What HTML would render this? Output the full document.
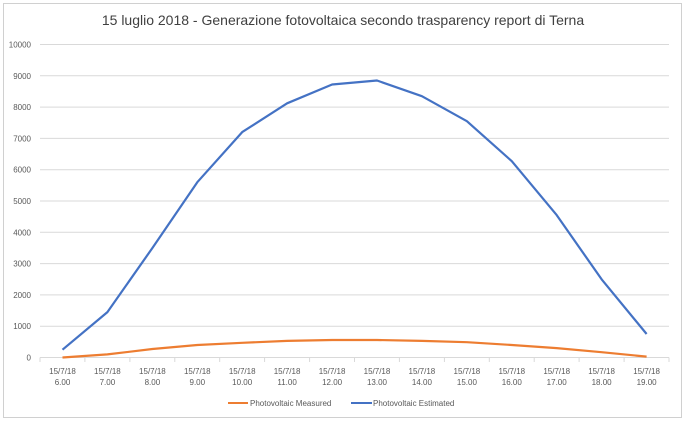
<!DOCTYPE html>
<html><head><meta charset="utf-8"><style>
body{margin:0;background:#fff;}
svg{display:block;font-family:"Liberation Sans",sans-serif;}
</style></head><body>
<svg width="686" height="422" viewBox="0 0 686 422">
<rect x="3.5" y="3.5" width="678" height="414" fill="#fff" stroke="#d0d0d0"/>
<text x="343" y="25" font-size="14" text-anchor="middle" fill="#404040">15 luglio 2018 - Generazione fotovoltaica secondo trasparency report di Terna</text>
<g stroke="#d9d9d9" stroke-width="1">
<line x1="40" x2="669" y1="44.5" y2="44.5"/><line x1="40" x2="669" y1="75.8" y2="75.8"/>
<line x1="40" x2="669" y1="107.1" y2="107.1"/><line x1="40" x2="669" y1="138.4" y2="138.4"/>
<line x1="40" x2="669" y1="169.7" y2="169.7"/><line x1="40" x2="669" y1="201" y2="201"/>
<line x1="40" x2="669" y1="232.3" y2="232.3"/><line x1="40" x2="669" y1="263.6" y2="263.6"/>
<line x1="40" x2="669" y1="294.9" y2="294.9"/><line x1="40" x2="669" y1="326.2" y2="326.2"/>
<line x1="40" x2="669" y1="357.5" y2="357.5"/>
</g>
<g font-size="8" fill="#595959" text-anchor="end">
<text x="31" y="47.5">10000</text><text x="31" y="78.8">9000</text><text x="31" y="110.1">8000</text>
<text x="31" y="141.4">7000</text><text x="31" y="172.7">6000</text><text x="31" y="204">5000</text>
<text x="31" y="235.3">4000</text><text x="31" y="266.6">3000</text><text x="31" y="297.9">2000</text>
<text x="31" y="329.2">1000</text><text x="31" y="360.5">0</text>
</g>
<g stroke="#d9d9d9">
<line x1="40" x2="40" y1="357.5" y2="362"/><line x1="84.9" x2="84.9" y1="357.5" y2="362"/>
<line x1="129.9" x2="129.9" y1="357.5" y2="362"/><line x1="174.8" x2="174.8" y1="357.5" y2="362"/>
<line x1="219.7" x2="219.7" y1="357.5" y2="362"/><line x1="264.6" x2="264.6" y1="357.5" y2="362"/>
<line x1="309.6" x2="309.6" y1="357.5" y2="362"/><line x1="354.5" x2="354.5" y1="357.5" y2="362"/>
<line x1="399.4" x2="399.4" y1="357.5" y2="362"/><line x1="444.4" x2="444.4" y1="357.5" y2="362"/>
<line x1="489.3" x2="489.3" y1="357.5" y2="362"/><line x1="534.2" x2="534.2" y1="357.5" y2="362"/>
<line x1="579.1" x2="579.1" y1="357.5" y2="362"/><line x1="624.1" x2="624.1" y1="357.5" y2="362"/>
<line x1="669" x2="669" y1="357.5" y2="362"/>
</g>
<g font-size="8" fill="#595959" text-anchor="middle">
<text x="62.5" y="374">15/7/18</text><text x="62.5" y="385">6.00</text>
<text x="107.4" y="374">15/7/18</text><text x="107.4" y="385">7.00</text>
<text x="152.4" y="374">15/7/18</text><text x="152.4" y="385">8.00</text>
<text x="197.3" y="374">15/7/18</text><text x="197.3" y="385">9.00</text>
<text x="242.2" y="374">15/7/18</text><text x="242.2" y="385">10.00</text>
<text x="287.1" y="374">15/7/18</text><text x="287.1" y="385">11.00</text>
<text x="332.1" y="374">15/7/18</text><text x="332.1" y="385">12.00</text>
<text x="377" y="374">15/7/18</text><text x="377" y="385">13.00</text>
<text x="421.9" y="374">15/7/18</text><text x="421.9" y="385">14.00</text>
<text x="466.9" y="374">15/7/18</text><text x="466.9" y="385">15.00</text>
<text x="511.8" y="374">15/7/18</text><text x="511.8" y="385">16.00</text>
<text x="556.7" y="374">15/7/18</text><text x="556.7" y="385">17.00</text>
<text x="601.6" y="374">15/7/18</text><text x="601.6" y="385">18.00</text>
<text x="646.6" y="374">15/7/18</text><text x="646.6" y="385">19.00</text>
</g>
<polyline fill="none" stroke="#4472c4" stroke-width="2.2" stroke-linejoin="round" points="62.5,349.7 107.4,312.1 152.4,248 197.3,182.2 242.2,132.1 287.1,103.3 332.1,84.5 377,80.5 421.9,96.2 466.9,121.2 511.8,161.2 556.7,215.1 601.6,279.3 646.6,334"/>
<polyline fill="none" stroke="#ed7d31" stroke-width="2.2" stroke-linejoin="round" points="62.5,357.5 107.4,354.4 152.4,349 197.3,345 242.2,342.8 287.1,340.9 332.1,340 377,340 421.9,340.9 466.9,342.2 511.8,345 556.7,348.1 601.6,352.2 646.6,356.6"/>
<line x1="228" x2="248" y1="403" y2="403" stroke="#ed7d31" stroke-width="2"/>
<text x="250" y="406" font-size="8" fill="#595959">Photovoltaic Measured</text>
<line x1="351" x2="372" y1="403" y2="403" stroke="#4472c4" stroke-width="2"/>
<text x="373" y="406" font-size="8" fill="#595959">Photovoltaic Estimated</text>
</svg>
</body></html>
